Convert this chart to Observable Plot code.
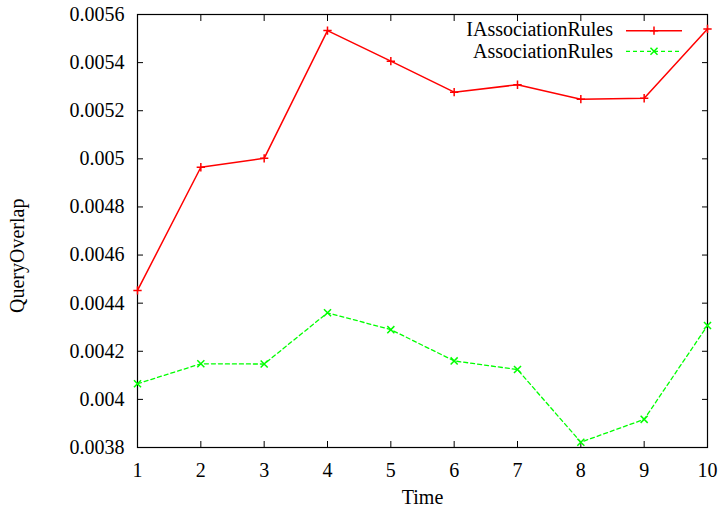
<!DOCTYPE html>
<html><head><meta charset="utf-8">
<script src="https://cdn.jsdelivr.net/npm/d3@7"></script>
<script src="https://cdn.jsdelivr.net/npm/@observablehq/plot@0.6"></script>
<style>body{margin:0;background:#fff} svg{display:block}</style>
</head><body><div id="chart"></div>
<script>
const times = [1, 2, 3, 4, 5, 6, 7, 8, 9, 10];
const iAssociationRules = [0.004453, 0.004965, 0.005002, 0.005533, 0.005406, 0.005277, 0.005308, 0.005248, 0.005252, 0.005540];
const associationRules = [0.004065, 0.004148, 0.004147, 0.004360, 0.004290, 0.004160, 0.004124, 0.003822, 0.003917, 0.004307];
const seriesNames = ["IAssociationRules", "AssociationRules"];
const seriesColors = ["#ff0000", "#00ff00"];
const seriesSymbols = ["plus", "times"];
const yTicks = [0.0038, 0.004, 0.0042, 0.0044, 0.0046, 0.0048, 0.005, 0.0052, 0.0054, 0.0056];
const yTickLabels = ["0.0038", "0.004", "0.0042", "0.0044", "0.0046", "0.0048", "0.005", "0.0052", "0.0054", "0.0056"];
const xTicks = times;
const xLabel = "Time";
const yLabel = "QueryOverlap";

const rows = [];
[iAssociationRules, associationRules].forEach((vals, s) => {
  vals.forEach((v, i) => rows.push({series: seriesNames[s], time: times[i], value: v}));
});
const rowsOf = s => rows.filter(r => r.series === seriesNames[s]);
const symR = [2.8, 3.3];

const chart = Plot.plot({
  width: 720, height: 513,
  marginLeft: 137, marginRight: 13, marginTop: 14, marginBottom: 66,
  style: {fontFamily: "'Liberation Serif', 'DejaVu Serif', serif", fontSize: "20px", color: "#000", background: "#fff", overflow: "visible"},
  x: {domain: [1, 10]},
  y: {domain: [0.0038, 0.0056]},
  marks: [
    Plot.axisX(xTicks, {anchor: "bottom", tickSize: -6, tickPadding: 21, label: null, fontSize: 20, tickFormat: d => String(d)}),
    Plot.axisX(xTicks, {anchor: "top", tickSize: -6, tickFormat: () => "", label: null}),
    Plot.axisY(yTicks, {anchor: "left", tickSize: -6, tickPadding: 19, fontSize: 20, label: null, tickFormat: d => yTickLabels[yTicks.indexOf(d)]}),
    Plot.axisY(yTicks, {anchor: "right", tickSize: -6, tickFormat: () => "", label: null}),
    Plot.frame({stroke: "#000", strokeWidth: 1.2}),
    Plot.line(rowsOf(0), {x: "time", y: "value", stroke: seriesColors[0], strokeWidth: 1.5}),
    Plot.line(rowsOf(1), {x: "time", y: "value", stroke: seriesColors[1], strokeWidth: 1.3, strokeDasharray: "4,3"}),
    Plot.dot(rowsOf(0), {x: "time", y: "value", symbol: seriesSymbols[0], r: symR[0], stroke: seriesColors[0], strokeWidth: 1.5}),
    Plot.dot(rowsOf(1), {x: "time", y: "value", symbol: seriesSymbols[1], r: symR[1], stroke: seriesColors[1], strokeWidth: 1.5}),
    Plot.text([xLabel], {text: d => d, frameAnchor: "bottom", dy: 56, fontSize: 20}),
    Plot.text([yLabel], {text: d => d, frameAnchor: "left", dx: -120, dy: 82, rotate: -90, fontSize: 20})
  ]
});
document.getElementById("chart").appendChild(chart);

// legend (top-right, inside the frame)
const svg = d3.select(chart);
const lg = svg.append("g").attr("font-family", "'Liberation Serif', serif").attr("font-size", 20);
seriesNames.forEach((name, i) => {
  const yText = 36 + i * 21.7;
  const yLine = 30.7 + i * 20.6;
  lg.append("text").attr("x", 613).attr("y", yText).attr("text-anchor", "end").attr("fill", "#000").text(name);
  lg.append("line").attr("x1", 626).attr("x2", 682).attr("y1", yLine).attr("y2", yLine)
    .attr("stroke", seriesColors[i]).attr("stroke-width", i === 0 ? 1.5 : 1.3)
    .attr("stroke-dasharray", i === 0 ? null : "4,3");
  const sym = i === 0 ? d3.symbolPlus : d3.symbolTimes;
  const size = Math.PI * symR[i] * symR[i];
  lg.append("path").attr("transform", `translate(654,${yLine})`)
    .attr("d", d3.symbol(sym, size)()).attr("fill", "none")
    .attr("stroke", seriesColors[i]).attr("stroke-width", 1.5);
});
</script>
</body></html>
